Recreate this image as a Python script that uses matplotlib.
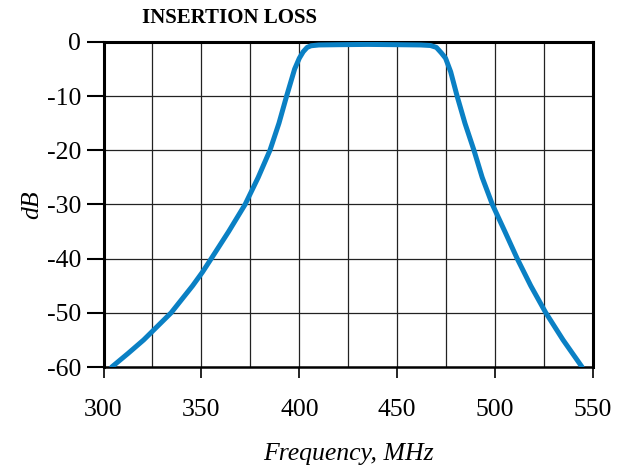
import matplotlib
matplotlib.use('Agg')
import matplotlib.pyplot as plt

plt.rcParams['font.family'] = ['Liberation Serif', 'DejaVu Serif']
plt.rcParams['axes.unicode_minus'] = False

# 插入损耗曲线
freq = [304.2, 312.5, 320.5, 327.5, 334.5, 340.0, 345.5, 350.5, 355.0, 363.9,
        372.3, 379.0, 385.0, 389.6, 393.5, 397.6, 400.0, 402.0, 404.0, 406.0,
        410.0, 420.0, 435.0, 450.0, 462.0, 467.0, 470.0, 472.5, 474.7, 477.3,
        480.6, 484.6, 489.2, 493.4, 498.6, 505.0, 511.3, 518.2, 525.9, 534.7,
        544.4]
loss = [-60, -57.5, -55, -52.5, -50, -47.5, -45, -42.5, -40, -35,
        -30, -25, -20, -15, -10, -5, -3, -1.8, -1.0, -0.7,
        -0.55, -0.5, -0.45, -0.5, -0.55, -0.65, -1.0, -2.0, -3.0, -5.5,
        -10, -15, -20, -25, -30, -35, -40, -45, -50, -55,
        -60]

xticks = [300, 350, 400, 450, 500, 550]
yticks = [0, -10, -20, -30, -40, -50, -60]

fig = plt.figure(figsize=(6.32, 4.68), dpi=100)
ax = fig.add_axes([0.1638, 0.2158, 0.7745, 0.6945])

ax.plot(freq, loss, color='#0a80c4', linewidth=3.6, solid_capstyle='round',
        solid_joinstyle='round', zorder=3)

ax.set_xlim(300, 550)
ax.set_ylim(-60, 0)
ax.set_xticks(xticks)
ax.set_yticks(yticks)

# 网格
for xv in range(325, 550, 25):
    ax.axvline(xv, color='#222222', linewidth=0.9, zorder=1)
for yv in range(-50, 0, 10):
    ax.axhline(yv, color='#222222', linewidth=0.9, zorder=1)

for side in ['left', 'top', 'right']:
    ax.spines[side].set_linewidth(2.2)
ax.spines['bottom'].set_linewidth(1.8)
for s in ax.spines.values():
    s.set_color('black')

ax.tick_params(axis='y', which='major', direction='out', length=12, width=1.5,
               labelsize=18.5, pad=4)
ax.tick_params(axis='x', which='major', direction='out', length=8, width=1.2,
               labelsize=18.5, pad=15)

ax.set_xlabel('Frequency, MHz', fontsize=18.5, style='italic', labelpad=16)
ax.set_ylabel('dB', fontsize=18.5, style='italic', labelpad=3)

fig.text(0.225, 0.962, 'INSERTION LOSS', fontsize=15, fontweight='bold',
         ha='left', va='center')

fig.savefig('out.png', dpi=100)
